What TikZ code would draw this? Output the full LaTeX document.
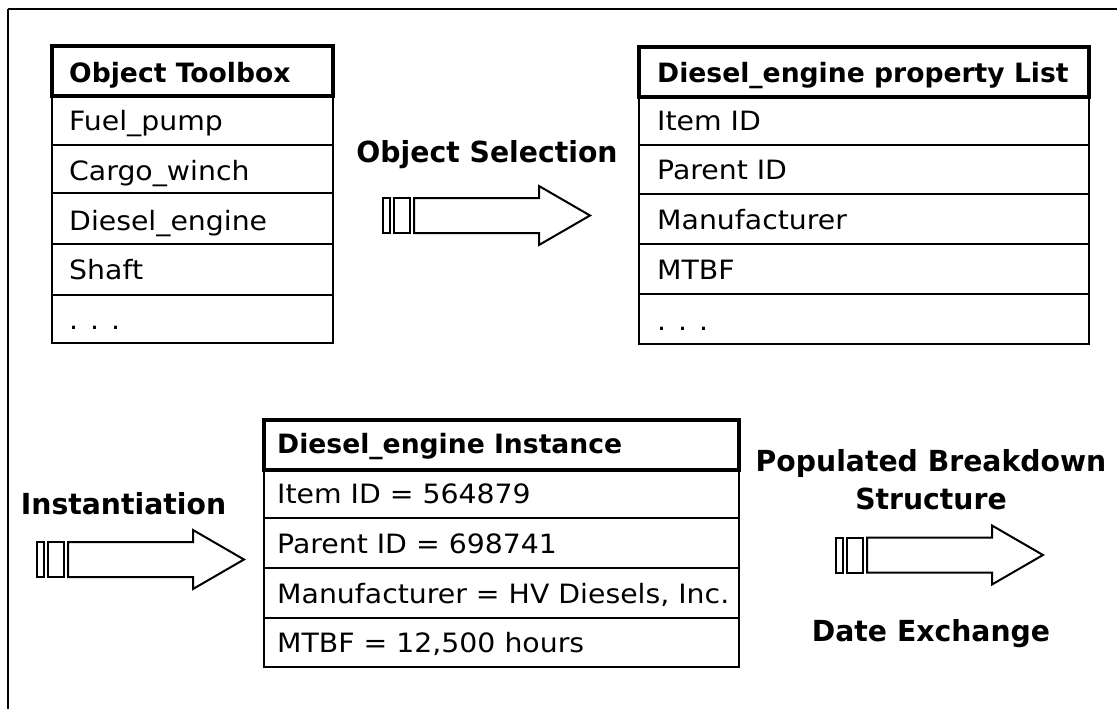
\documentclass[tikz,border=0pt]{standalone}
\usepackage{fontspec}
\setmainfont{DejaVu Sans}
\newfontfamily\cellfont[FakeStretch=1.065]{DejaVu Sans}
\newfontfamily\labelfont[FakeStretch=0.975]{DejaVu Sans Bold}
\begin{document}
\begin{tikzpicture}[x=1pt,y=-1pt,
  frameline/.style={line width=2pt},
  cell/.style={draw, line width=1.9pt},
  headcell/.style={draw, line width=4pt},
  celltext/.style={anchor=base west, inner sep=0pt, font=\cellfont\fontsize{26.6}{30}\selectfont},
  headtext/.style={anchor=base west, inner sep=0pt, font=\bfseries\fontsize{26.6}{30}\selectfont},
  steplabel/.style={anchor=base, inner sep=0pt, font=\labelfont\fontsize{29}{34}\selectfont},
  arrowline/.style={draw, line width=2pt, line join=miter},
  blockarrow/.pic={
    \draw[arrowline] (0,-17.5) rectangle (7,17.5);
    \draw[arrowline] (11,-17.5) rectangle (27,17.5);
    \draw[arrowline] (31,-17.5) -- (156,-17.5) -- (156,-29.5) -- (207,0)
      -- (156,29.5) -- (156,17.5) -- (31,17.5) -- cycle;
  }]
\useasboundingbox (0,0) rectangle (1117,709);

% page frame (top and left edges)
\draw[frameline] (8,9) -- (1117,9);
\draw[frameline] (8,9) -- (8,709);

% ---- Object Toolbox ----
\foreach \ya/\yb in {96/145,145/193,193/244,244/295,295/343}
  \draw[cell] (52,\ya) rectangle (333,\yb);
\draw[headcell] (52,46) rectangle (333,96);
\node[headtext] (tbh) at (69,82) {Object Toolbox};
\node[celltext] (tb1) at (69,130) {Fuel\_pump};
\node[celltext] (tb2) at (69,180) {Cargo\_winch};
\node[celltext] (tb3) at (69,230) {Diesel\_engine};
\node[celltext] (tb4) at (69,279) {Shaft};
\node[celltext] (tb5) at (69,329) {.\hspace{12pt}.\hspace{12pt}.};

% ---- Property list ----
\foreach \ya/\yb in {97/145,145/194,194/244,244/294,294/344}
  \draw[cell] (639,\ya) rectangle (1089,\yb);
\draw[headcell] (639,47) rectangle (1089,97);
\node[headtext] (plh) at (657,82) {Diesel\_engine property List};
\node[celltext] (pl1) at (657,130) {Item ID};
\node[celltext] (pl2) at (657,179) {Parent ID};
\node[celltext] (pl3) at (657,229) {Manufacturer};
\node[celltext] (pl4) at (657,279) {MTBF};
\node[celltext] (pl5) at (657,330) {.\hspace{12pt}.\hspace{12pt}.};

% ---- Instance ----
\foreach \ya/\yb in {470/518,518/568,568/618,618/667}
  \draw[cell] (264,\ya) rectangle (739,\yb);
\draw[headcell] (264,420) rectangle (739,470);
\node[headtext] (inh) at (277,453) {Diesel\_engine Instance};
\node[celltext] (in1) at (277,503) {Item ID = 564879};
\node[celltext] (in2) at (277,553) {Parent ID = 698741};
\node[celltext] (in3) at (277,603) {Manufacturer = HV Diesels, Inc.};
\node[celltext] (in4) at (277,652) {MTBF = 12,500 hours};

% ---- block arrows and their labels ----
\pic at (383,215.5) {blockarrow};
\node[steplabel] (sel) at (487,162) {Object Selection};

\pic at (37,559.5) {blockarrow};
\node[steplabel] (ins) at (123.5,514) {Instantiation};

\pic at (836,555) {blockarrow};
\node[steplabel] (pop1) at (931,471) {Populated Breakdown};
\node[steplabel] (pop2) at (931,509) {Structure};
\node[steplabel] (dex) at (931,641) {Date Exchange};
\end{tikzpicture}
\end{document}
